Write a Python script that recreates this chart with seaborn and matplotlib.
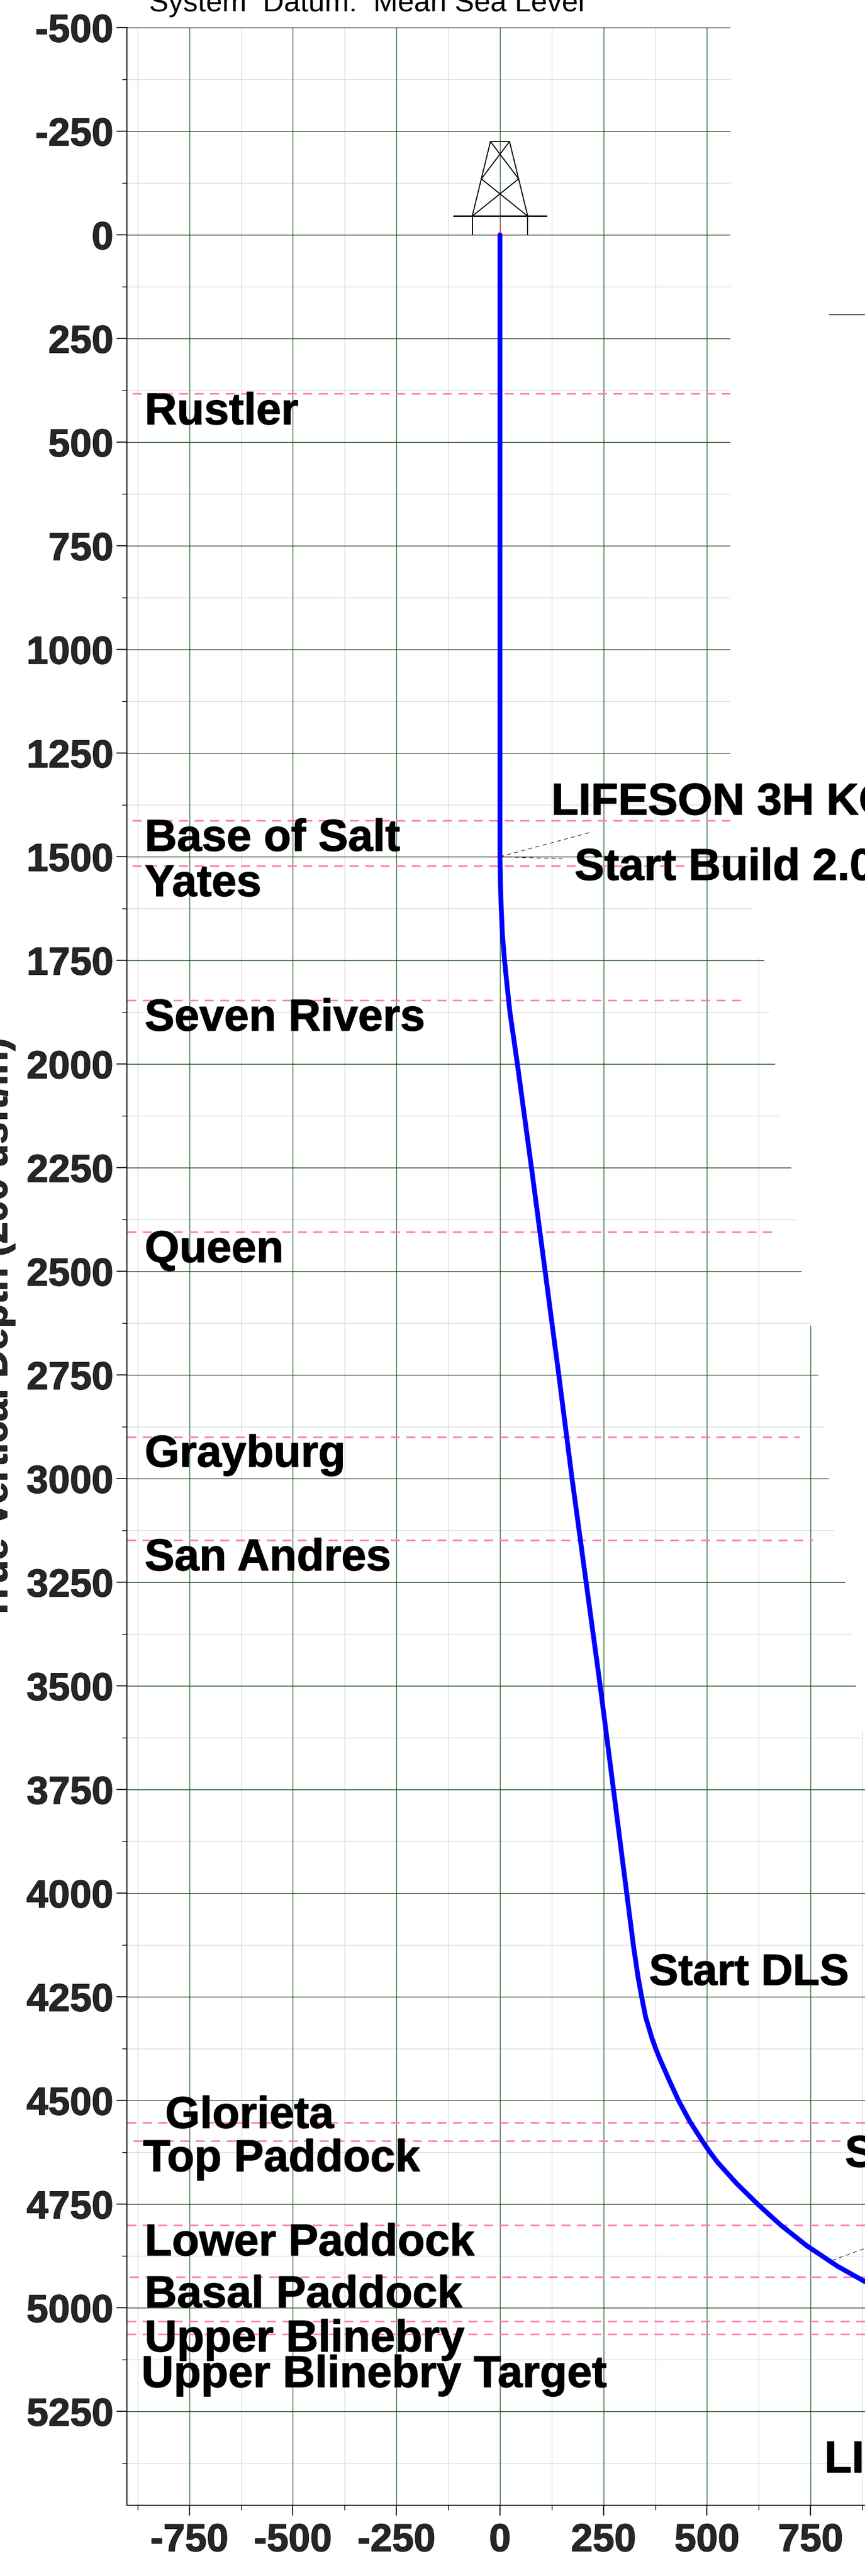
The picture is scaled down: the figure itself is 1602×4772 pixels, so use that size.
import pandas as pd
import matplotlib
matplotlib.use("Agg")
import matplotlib.pyplot as plt
import matplotlib.patheffects as pe
import seaborn as sns

#--------------------------- Data ---------------------------

well_tvd = [0, 500, 1000, 1500, 1560, 1625, 1690, 1750, 1800, 1875, 2000, 2250, 2500, 2750, 3000, 3250, 3500, 3750, 4000,
            4125, 4200, 4250, 4300, 4350, 4375, 4400, 4450, 4500, 4550, 4600, 4625, 4650, 4700, 4750,
            4800, 4850, 4900, 4937]
well_x = [0, 0, 0, 0, 1, 3, 6, 11, 16, 24, 42, 76, 109, 142, 174, 208, 242, 274, 306,
          322, 333, 342, 352, 367, 376, 386, 408, 431, 458, 490, 507, 526, 571, 622,
          677, 740, 815, 881]

top_names = ["Rustler", "Base of Salt", "Yates", "Seven Rivers", "Queen", "Grayburg", "San Andres", "Glorieta",
             "Top Paddock", "Lower Paddock", "Basal Paddock", "Upper Blinebry", "Upper Blinebry Target"]
top_tvd = [383, 1413, 1522, 1846, 2405, 2900, 3148, 4553, 4598, 4801, 4926, 5033, 5064]
top_x_start = [-888, -888, -888, -901, -901, -901, -901, -901, -885, -901, -895, -901, -901]
top_x_end = [555, 555, 555, 584, 657, 724, 755, 881, 881, 881, 881, 881, 881]

# horizontal grid, right ends make the staircase seen in the picture
major_depths = [-500, -250, 0, 250, 500, 750, 1000, 1250, 1500, 1750, 2000, 2250, 2500, 2750, 3000, 3250, 3500,
                3750, 4000, 4250, 4500, 4750, 5000, 5250]
major_right = [555, 555, 555, 555, 555, 555, 555, 555, 597, 638, 664, 703, 727, 768, 794, 833, 859,
               881, 881, 881, 881, 881, 881, 881]
minor_depths = [-375, -125, 125, 375, 625, 875, 1125, 1375, 1625, 1875, 2125, 2375, 2625, 2875, 3125, 3375, 3625,
                3875, 4125, 4375, 4625, 4875, 5125, 5375]
minor_right = [555, 555, 555, 555, 555, 555, 555, 585, 609, 650, 675, 716, 750, 781, 806, 847, 873,
               881, 881, 881, 881, 881, 881, 881]

major_x = [-750, -500, -250, 0, 250, 500, 750]
major_x_top = [-500, -500, -500, -500, -500, -500, 2630]
minor_x = [-875, -625, -375, -125, 125, 375, 625, 875]
minor_x_top = [-500, -500, -500, -500, -500, -500, 1741, 3607]

# rig symbol, one list per stroke
derrick_x = [[-67, -23, 23, 67], [-67, -67], [67, 67], [-67, 45], [67, -45], [-45, 23], [45, -23]]
derrick_y = [[-45, -225, -225, -45], [-45, 0], [-45, 0], [-45, -135], [-45, -135], [-135, -225], [-135, -225]]
platform_x = [-112, 112]
platform_y = [-45, -45]

leader_x = [[0, 216], [0, 151], [802, 881]]
leader_y = [[1500, 1442], [1500, 1505], [4886, 4857]]

survey_x = [0, 0]
survey_y = [0, 1500]

stray_x = [795, 881]
stray_y = [193, 193]

#--------------------------- Figure ---------------------------

W, H = 1602, 4772
sns.set_theme(style="white")
plt.rcParams["font.family"] = ["Liberation Sans", "DejaVu Sans"]
plt.rcParams["font.weight"] = "bold"

fig = plt.figure(figsize=(W / 100, H / 100), dpi=100)
ax = fig.add_axes([235 / W, 1 - 4641 / H, 1 - 235 / W, (4641 - 51) / H])

GREEN_H = "#154a15"
GREEN_V = "#2a662a"
GREY = "#dcdcdc"
PINK = "#ff80c0"
HEAVY = [pe.withStroke(linewidth=1.0, foreground="black")]

# grid
ax.hlines(minor_depths, -901, minor_right, color=GREY, lw=1.0, zorder=1)
ax.vlines(minor_x, minor_x_top, 5476, color=GREY, lw=1.0, zorder=1)
ax.vlines(major_x, major_x_top, 5476, color=GREEN_V, lw=1.0, zorder=1.5)
ax.hlines(major_depths, -901, major_right, color=GREEN_H, lw=1.0, zorder=1.5, clip_on=False)
ax.plot(stray_x, stray_y, color=GREEN_H, lw=1.3, zorder=1.5)

# formation tops
for name, tvd, x0, x1 in zip(top_names, top_tvd, top_x_start, top_x_end):
    ax.plot([x0, x1], [tvd, tvd], color=PINK, lw=2.2, linestyle=(0, (5.5, 3.9)), zorder=2)

# rig
for sx, sy in zip(derrick_x, derrick_y):
    ax.plot(sx, sy, color="black", lw=1.4, zorder=3, solid_capstyle="butt")
ax.plot(platform_x, platform_y, color="black", lw=2.0, zorder=3)

ax.plot(survey_x, survey_y, linestyle="none", marker="+", color="red", ms=26, mew=0.9, zorder=3)

for lx, ly in zip(leader_x, leader_y):
    ax.plot(lx, ly, color="black", lw=0.7, linestyle=(0, (8, 6)), zorder=3)

# wellbore
well = pd.DataFrame({"x": well_x, "tvd": well_tvd})
sns.lineplot(data=well, x="x", y="tvd", sort=False, estimator=None, color="#0000ff",
             solid_capstyle="round", zorder=4, ax=ax)
ax.lines[-1].set_linewidth(6.4)
ax.set_xlim(-900.9, 881.4)
ax.set_ylim(5476.6, -500)
ax.set_xlabel("")
ax.set_ylabel("")

# ticks
ax.set_xticks(major_x)
ax.set_xticks(minor_x, minor=True)
ax.set_yticks(major_depths)
ax.set_yticks(minor_depths, minor=True)
ax.set_xticklabels([str(v) for v in major_x])
ax.set_yticklabels([str(v) for v in major_depths])
ax.tick_params(axis="both", which="major", length=14, width=1.5, color="#222222", labelsize=52, bottom=True, left=True)
ax.tick_params(axis="both", which="minor", length=6.5, width=1.0, color="black", bottom=True, left=True)
ax.tick_params(axis="y", which="major", pad=4)
ax.tick_params(axis="x", which="major", pad=9)
for lab in ax.get_xticklabels() + ax.get_yticklabels():
    lab.set_path_effects(HEAVY)

for s in ["top", "right"]:
    ax.spines[s].set_visible(False)
for s in ["left", "bottom"]:
    ax.spines[s].set_color("black")
    ax.spines[s].set_linewidth(1.4)

#--------------------------- Text, placed in pixels of the figure ---------------------------

def px_text(x, y, s, size=59.5, weight="bold", heavy=True):
    t = fig.text(x / W, 1 - y / H, s, fontsize=size, fontweight=weight, color="black",
                 ha="left", va="baseline", zorder=10)
    if heavy:
        t.set_path_effects(HEAVY)

top_label_px = [(268, 786), (268, 1576), (268, 1660), (268, 1909), (268, 2338), (268, 2717), (268, 2909),
                (306, 3942), (265, 4022), (268, 4178), (268, 4274), (268, 4356), (262, 4422)]
for name, (lx, ly) in zip(top_names, top_label_px):
    px_text(lx, ly, name)

px_text(1021, 1509, "LIFESON 3H KOP")
px_text(1064, 1630, "Start Build 2.00")
px_text(1202, 3677, "Start DLS", size=58.5)
px_text(1565, 4014, "Start")
px_text(1527, 4580, "LIFESON 3H")
px_text(276, 21, "System  Datum:  Mean Sea Level", size=39, weight="normal", heavy=False)

ylab = fig.text(13 / W, 1 - 2462 / H, "True Vertical Depth (200 usft/in)", fontsize=52, fontweight="bold",
                rotation=90, ha="center", va="baseline", rotation_mode="anchor")
ylab.set_path_effects(HEAVY)

fig.savefig("out.png", dpi=100, facecolor="white")
